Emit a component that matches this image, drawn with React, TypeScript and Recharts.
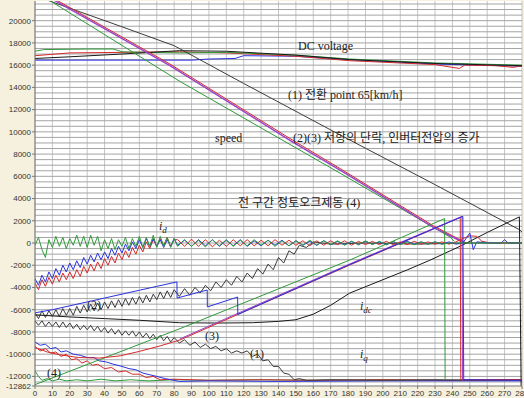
import React from 'react';
import { LineChart, Line, XAxis, YAxis, CartesianGrid } from 'recharts';

// ---------- axes ----------
const X_TICKS = [0, 10, 20, 30, 40, 50, 60, 70, 80, 90, 100, 110, 120, 130, 140, 150, 160, 170, 180, 190, 200, 210, 220, 230, 240, 250, 260, 270, 280];
const Y_TICKS = [20000, 18000, 16000, 14000, 12000, 10000, 8000, 6000, 4000, 2000, 0, -2000, -4000, -6000, -8000, -10000, -12000, -12862];
const Y_MIN = -12862;
const Y_MAX = 21770;

// ---------- sample times for oscillating traces ----------
const T_A = [0, 2, 4, 6, 8, 10, 12, 14, 16, 18, 20, 22, 24, 26, 28, 30, 32, 34, 36, 38, 40, 42, 44, 46, 48, 50, 52, 54, 56, 58, 60, 62, 64, 66, 68, 70, 72, 74, 76, 78, 80];
const T_B = [82, 86, 90, 94, 98, 102, 106, 110, 114, 118, 122, 126, 130, 134, 138, 142, 146, 150, 154, 158, 162, 166, 170, 174, 178, 182, 186, 190, 194, 198, 202, 206, 210, 214, 218, 222, 226, 230, 234, 238, 242, 246, 250];
const T_C = [83, 86, 89, 92, 95, 98, 101, 104, 107, 110, 113, 116, 119, 122, 125, 128, 131, 134, 137, 140, 143, 146, 149];

// ---------- DC voltage ----------
const dcBlack = [[0, 16600], [20, 16750], [50, 17000], [83, 17300], [110, 17250], [150, 16900], [181, 16500], [230, 16150], [280, 15950]];
const dcGreen = [[0, 17250], [5, 17400], [30, 17450], [45, 17450], [50, 17200], [83, 17100], [110, 17150], [150, 16900], [181, 16550], [230, 16200], [280, 16000]];
const dcRed = [[0, 16850], [20, 17100], [50, 17150], [83, 17200], [110, 17100], [150, 16800], [181, 16400], [230, 16050], [244, 15700], [247, 16000], [265, 15950], [275, 15800], [280, 15950]];
const dcBlue = [[0, 16450], [50, 16450], [90, 16450], [100, 16550], [115, 16600], [120, 16850], [150, 16800], [181, 16500], [230, 16100], [280, 15900]];

// ---------- speed ----------
const speedGreen = [[0, 22630], [8.6, 21800], [83.4, 14530], [175.4, 6280], [238.6, 540], [241, 150]];
const speedPurple = [[0, 22820], [77.6, 15950], [146.6, 9240], [175.4, 6550], [228.9, 1430], [247, 0]];
const speedRed = [[0, 22950], [77.6, 16100], [146.6, 9400], [175.4, 6700], [228.9, 1560], [248, 0]];
const speedBlack = [[0, 22250], [13.2, 21500], [50, 19450], [80, 17750], [120, 14350], [173.7, 9865], [230, 5250], [278.9, 1166], [280, 1000]];

// ---------- i_d ----------
const idGreenA = [-200, 500, -600, -1300, 300, -400, 600, -300, 500, -500, 400, -200, 700, -300, 600, -400, 700, -200, 600, -700, 300, -500, 400, -600, 300, -300, 500, -500, 400, -300, 600, -400, 500, -300, 700, -400, 600, -300, 500, -400, 400];
const idGreenB = [-300, 300, -300, 250, -350, 300, -250, 300, -300, 250, -250, 300, -200, 250, -300, 200, -250, 200, -200, 250, -200, 200, -150, 200, -200, 150, -150, 200, -150, 150, -150, 150, -150, 100, -150, 100, -100, 100, -100, 0, 0, 0, 0];
const idGreenTail = [[265, 0], [280, 0]];
const idRedA = [-3600, -4200, -3300, -3900, -3100, -3700, -2900, -3500, -2700, -3300, -2600, -3200, -2400, -3000, -2100, -2700, -1900, -2500, -1700, -2300, -1400, -2000, -1200, -1800, -900, -1500, -700, -1300, -400, -1000, -200, -800, 100, -500, 300, -300, 400, -200, 500, -300, 300];
const idRedB = [300, -300, 350, -300, 300, -350, 250, -300, 300, -250, 300, -250, 250, -250, 300, -200, 250, -200, 200, -250, 200, -200, 200, -150, 200, -200, 150, -150, 150, -150, 150, -150, 100, -150, 150, -100, 100, -100, 100, -100, 100, 400, 650];
const idRedTail = [[254, 600], [257, 150], [262, 0], [280, 0]];
const idBlueA = [-3200, -3800, -2900, -3500, -2600, -3200, -2300, -2900, -2000, -2600, -1800, -2400, -1600, -2200, -1300, -1900, -1100, -1700, -900, -1500, -800, -1400, -500, -1100, -300, -900, -100, -700, 100, -500, 300, -400, 400, -300, 400, -300, 300, -400, 300, -300, 400];
const idBlueB = [-200, 250, -300, 300, -250, 300, -300, 250, -250, 300, -300, 200, -250, 250, -200, 250, -250, 200, -200, 150, -200, 200, -150, 150, -150, 150, -150, 150, -100, 100, -150, 100, -100, 150, -100, 100, -100, 100, -100, 100, -100, 0, 900];
const idBlueTail = [[252, -600], [254, 100], [262, 0], [268, 0], [270, 300], [272, 0], [280, 0]];

// ---------- zig-zag traces (2) and (1) ----------
const zig2A = [-6300, -6800, -6100, -6700, -6100, -6600, -6000, -6600, -5900, -6500, -5900, -6500, -5700, -6300, -5600, -6200, -5500, -6100, -5400, -6000, -5300, -5900, -5200, -5800, -5100, -5700, -5000, -5600, -4900, -5500, -4800, -5400, -4700, -5300, -4600, -5100, -4400, -5000, -4300, -4900, -4200];
const zig2C = [-4800, -4100, -4700, -4000, -4500, -3800, -4300, -3500, -4000, -3300, -3800, -3000, -3500, -2700, -3200, -2300, -2800, -1900, -2400, -1300, -1800, -700, -1000];
const zig2Tail = [[152, -200], [156, -400], [160, 100], [170, -100], [190, 0], [220, -100], [250, 0], [280, 0]];
const zig1A = [-7000, -7400, -7000, -7500, -7100, -7500, -7100, -7600, -7100, -7600, -7200, -7700, -7300, -7800, -7400, -7800, -7400, -7900, -7500, -8000, -7600, -8100, -7700, -8200, -7800, -8300, -7900, -8300, -7900, -8400, -8000, -8500, -8100, -8600, -8200, -8700, -8300, -8800, -8400, -8900, -8500];
const zig1C = [-9000, -8700, -9200, -8900, -9400, -9100, -9500, -9300, -9700, -9500, -9900, -9700, -9900, -9700, -10200, -10000, -10600, -10500, -11100, -11100, -11700, -11800, -12300];
const zig1Tail = [[152, -12200], [156, -12350], [170, -12300], [200, -12350], [230, -12300], [260, -12350], [280, -12300]];

// ---------- i_dc ----------
const idcBlack = [[0, -6460], [20, -6650], [40, -6800], [60, -6950], [83, -7170], [105, -7200], [125, -7170], [140, -7050], [150, -6900], [160, -6400], [170, -5600], [181, -4500], [214, -2420], [227, -1550], [245, -250], [260, 950], [278.5, 2350], [279.5, -12862]];

// ---------- rising torque lines (2)(3)(4) ----------
const line3Red = [[0, -9400], [7, -9800], [14, -10050], [25, -10300], [37, -10350], [49, -10150], [60, -9750], [72, -9250], [83.4, -8720], [181, -1980], [244.5, 2300], [244.8, -12300], [280, -12300]];
const line3Purple = [[83.4, -8620], [181, -1880], [245.5, 2400], [245.8, -12300]];
const line2Blue = [[0, -6280], [10, -6000], [20, -5650], [30, -5300], [40, -4950], [50, -4600], [60, -4250], [70, -3900], [81.6, -3500], [81.7, -4950], [99, -4230], [99.1, -5750], [116.5, -4860], [116.6, -6430], [181, -1930], [246, 2400], [246.5, -12300], [280, -12350]];
const line4Green = [[0, -12740], [83.4, -7700], [181, -1530], [235.5, 2200], [235.8, -12250]];

// ---------- i_q ----------
const iqGreen = [[0, -11500], [2, -12000], [4, -12350], [7, -12200], [10, -12400], [14, -12250], [18, -12400], [24, -12300], [30, -12400], [38, -12250], [46, -12400], [55, -12300], [65, -12400], [80, -12300], [100, -12350], [130, -12300], [160, -12350], [200, -12300], [235, -12350], [260, -12300], [280, -12320]];
const iqRed = [[0, -9300], [3, -9700], [6, -9500], [9, -9900], [12, -9800], [15, -10200], [18, -10000], [21, -10500], [24, -10400], [27, -10800], [30, -10600], [33, -11000], [36, -10900], [40, -11300], [44, -11200], [48, -11600], [52, -11500], [56, -11800], [60, -11800], [64, -12100], [68, -12000], [72, -12300], [80, -12250], [100, -12350], [130, -12300], [160, -12350], [200, -12300], [240, -12350], [280, -12300]];
const iqBlue = [[0, -8900], [3, -9200], [6, -9100], [9, -9500], [12, -9400], [15, -9800], [18, -9700], [22, -10000], [26, -10100], [30, -10300], [34, -10300], [37, -10600], [41, -10700], [45, -10900], [50, -11100], [54, -11300], [58, -11400], [62, -11700], [66, -11850], [70, -12000], [75, -12200], [83, -12450], [100, -12400], [140, -12450], [200, -12400], [280, -12400]];

// ---------- helpers ----------
type P = { t: number; v: number };
const pairs = (arr: number[][]): P[] => arr.map(([t, v]) => ({ t, v }));
const zip = (ts: number[], vs: number[]): P[] => ts.map((t, i) => ({ t, v: vs[i] }));

const GRID_Y: number[] = [];
for (let g = -12500; g <= 21500; g += 500) GRID_Y.push(g);

const C_GREEN = '#2f9a3a';
const C_RED = '#d42a2a';
const C_BLUE = '#2a32e0';
const C_PURPLE = '#9a44c8';
const C_BLACK = '#1a1a1a';
const C_DARK = '#3c3c3c';

const series: { data: P[]; color: string; w?: number }[] = [
  { data: pairs(dcBlue), color: C_BLUE },
  { data: pairs(dcRed), color: C_RED },
  { data: pairs(dcGreen), color: C_GREEN },
  { data: pairs(dcBlack), color: C_BLACK },
  { data: pairs(speedBlack), color: C_DARK },
  { data: pairs(speedGreen), color: C_GREEN },
  { data: pairs(speedRed), color: C_RED },
  { data: pairs(speedPurple), color: C_PURPLE, w: 1.5 },
  { data: pairs(iqGreen), color: C_GREEN },
  { data: pairs(iqRed), color: C_RED },
  { data: pairs(iqBlue), color: C_BLUE },
  { data: [...zip(T_A, zig1A), ...zip(T_C, zig1C), ...pairs(zig1Tail)], color: C_DARK },
  { data: [...zip(T_A, zig2A), ...zip(T_C, zig2C), ...pairs(zig2Tail)], color: C_DARK },
  { data: pairs(idcBlack), color: C_BLACK },
  { data: pairs(line4Green), color: C_GREEN },
  { data: pairs(line3Red), color: C_RED },
  { data: pairs(line3Purple), color: C_PURPLE },
  { data: pairs(line2Blue), color: C_BLUE },
  { data: [...zip(T_A, idRedA), ...zip(T_B, idRedB), ...pairs(idRedTail)], color: C_RED },
  { data: [...zip(T_A, idBlueA), ...zip(T_B, idBlueB), ...pairs(idBlueTail)], color: C_BLUE },
  { data: [...zip(T_A, idGreenA), ...zip(T_B, idGreenB), ...pairs(idGreenTail)], color: C_GREEN },
];

const tickStyle = { fontSize: 8, fill: '#333', fontFamily: 'Liberation Sans, Arial, sans-serif' };
const annFont = "'Liberation Serif', 'Noto Sans CJK KR', serif";

// horizontal grid rows every 500 units, placed through the y-axis scale
const gridRows = (props: any) => {
  const ax = props && props.yAxis;
  const sc = ax && ax.scale;
  if (typeof sc === 'function') return GRID_Y.map((g) => sc(g));
  if (sc && typeof sc.map === 'function') return GRID_Y.map((g) => sc.map(g));
  return [];
};

export default function App() {
  return (
    <div style={{ position: 'absolute', left: 0, top: 0, width: 524, height: 398, background: '#f5f1de', overflow: 'hidden' }}>
      <LineChart width={524} height={398} margin={{ top: 1, right: 2, left: 0, bottom: 0 }}>
        <CartesianGrid fill="#ffffff" stroke="#c6c6c6" horizontal={false} vertical={true} />
        <CartesianGrid
          yAxisId="main"
          stroke="#a4a4a4"
          horizontal={true}
          vertical={false}
          horizontalCoordinatesGenerator={gridRows}
        />
        <XAxis
          type="number"
          dataKey="t"
          domain={[0, 280]}
          ticks={X_TICKS}
          interval={0}
          height={12}
          tick={tickStyle}
          tickSize={3}
          tickMargin={1}
          stroke="#777"
          allowDataOverflow
        />
        <YAxis
          yAxisId="main"
          type="number"
          dataKey="v"
          domain={[Y_MIN, Y_MAX]}
          ticks={Y_TICKS}
          interval={0}
          width={35}
          tick={tickStyle}
          tickSize={3}
          tickMargin={1}
          stroke="#777"
          allowDataOverflow
        />
        {series.map((s, i) => (
          <Line
            key={i}
            yAxisId="main"
            data={s.data}
            dataKey="v"
            type="linear"
            stroke={s.color}
            strokeWidth={s.w ?? 1}
            dot={false}
            activeDot={false}
            isAnimationActive={false}
          />
        ))}
      </LineChart>
      <svg width={524} height={398} style={{ position: 'absolute', left: 0, top: 0, pointerEvents: 'none' }}>
        <g fontFamily={annFont} fontSize={12} fill="#222">
          <text x={298} y={50}>DC voltage</text>
          <text x={288} y={99}>(1) 전환 point 65[km/h]</text>
          <text x={215} y={142}>speed</text>
          <text x={293} y={142}>(2)(3) 저항의 단락, 인버터전압의 증가</text>
          <text x={238} y={207}>전 구간 정토오크제동 (4)</text>
          <text x={87} y={309}>(2)</text>
          <text x={205} y={340}>(3)</text>
          <text x={250} y={358}>(1)</text>
          <text x={47} y={377}>(4)</text>
          <text x={159} y={230} fontStyle="italic">i<tspan fontSize={9} dy={3}>d</tspan></text>
          <text x={360} y={310} fontStyle="italic">i<tspan fontSize={9} dy={3}>dc</tspan></text>
          <text x={360} y={358} fontStyle="italic">i<tspan fontSize={9} dy={3}>q</tspan></text>
        </g>
      </svg>
    </div>
  );
}
